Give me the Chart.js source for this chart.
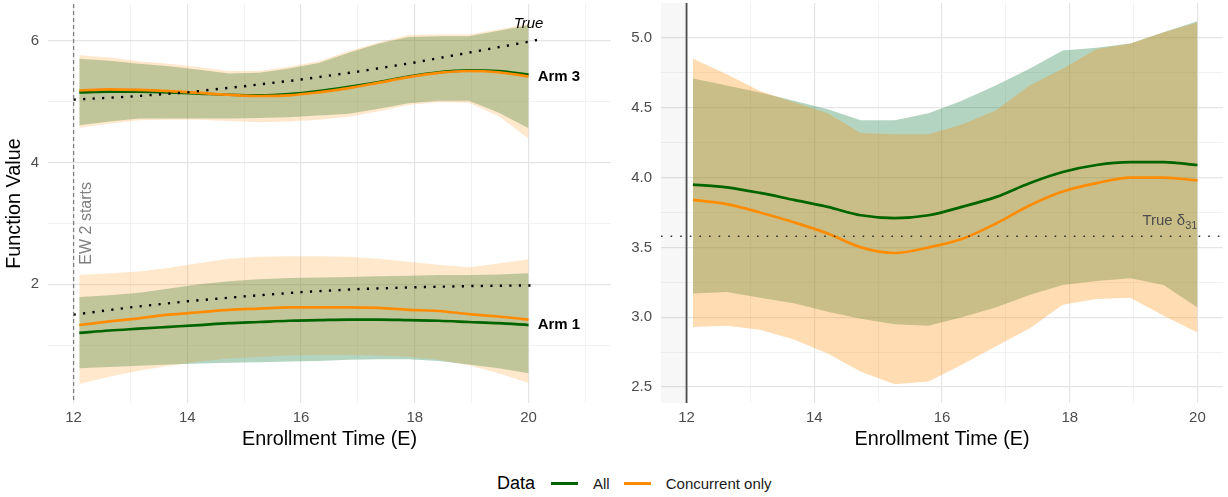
<!DOCTYPE html>
<html>
<head>
<meta charset="utf-8">
<script src="https://cdn.jsdelivr.net/npm/chart.js@4.4.1/dist/chart.umd.min.js"></script>
<style>
  body { margin: 0; background: #fff; width: 1228px; height: 497px; position: relative; overflow: hidden;
         font-family: "Liberation Sans", Arial, sans-serif; }
  #left { position: absolute; left: 0; top: 0; }
  #right { position: absolute; left: 615px; top: 0; }
  #legend { position: absolute; top: 471px; left: 497px; height: 24px; display: flex; align-items: center; }
  #legend .title { font-size: 18px; color: #000; margin-right: 16px; }
  #legend .key { width: 27px; height: 3px; margin-right: 15px; }
  #legend .lab { font-size: 15px; color: #1a1a1a; margin-right: 14px; }
</style>
</head>
<body>
<canvas id="left" width="615" height="455"></canvas>
<canvas id="right" width="613" height="455"></canvas>
<div id="legend">
  <span class="title">Data</span>
  <span class="key" style="background:#006400"></span><span class="lab">All</span>
  <span class="key" style="background:#ff8c00"></span><span class="lab">Concurrent only</span>
</div>
<script>
// enrollment times of the estimates
const enrollTime = [12.1, 12.63, 13.15, 13.68, 14.21, 14.73, 15.26, 15.79, 16.31, 16.84, 17.37, 17.89, 18.42, 18.95, 19.47, 20];

// left panel - arm 3
const arm3AllFit  = [5.15, 5.16, 5.16, 5.15, 5.13, 5.11, 5.10, 5.12, 5.17, 5.24, 5.32, 5.41, 5.48, 5.51, 5.50, 5.44];
const arm3AllLow  = [4.61, 4.67, 4.72, 4.72, 4.72, 4.72, 4.73, 4.74, 4.77, 4.80, 4.88, 4.97, 5.01, 5.01, 4.82, 4.56];
const arm3AllUp   = [5.70, 5.67, 5.62, 5.58, 5.52, 5.46, 5.47, 5.54, 5.63, 5.80, 5.95, 6.06, 6.07, 6.07, 6.16, 6.25];
const arm3ConcFit = [5.18, 5.20, 5.19, 5.17, 5.14, 5.11, 5.09, 5.10, 5.15, 5.22, 5.31, 5.40, 5.47, 5.50, 5.48, 5.41];
const arm3ConcLow = [4.57, 4.64, 4.69, 4.70, 4.70, 4.68, 4.66, 4.67, 4.70, 4.75, 4.84, 4.94, 4.99, 4.98, 4.76, 4.39];
const arm3ConcUp  = [5.76, 5.72, 5.66, 5.62, 5.56, 5.50, 5.50, 5.57, 5.66, 5.83, 5.97, 6.09, 6.10, 6.10, 6.18, 6.27];

// left panel - arm 1
const arm1AllFit  = [1.20, 1.24, 1.27, 1.30, 1.33, 1.36, 1.38, 1.40, 1.41, 1.42, 1.42, 1.41, 1.40, 1.38, 1.36, 1.33];
const arm1AllLow  = [0.62, 0.64, 0.66, 0.68, 0.70, 0.71, 0.72, 0.73, 0.74, 0.76, 0.77, 0.77, 0.74, 0.68, 0.62, 0.54];
const arm1AllUp   = [1.79, 1.82, 1.86, 1.93, 2.00, 2.05, 2.08, 2.10, 2.11, 2.12, 2.13, 2.14, 2.15, 2.15, 2.16, 2.18];
const arm1ConcFit = [1.33, 1.39, 1.44, 1.50, 1.54, 1.58, 1.60, 1.62, 1.62, 1.62, 1.61, 1.58, 1.56, 1.51, 1.47, 1.42];
const arm1ConcLow = [0.36, 0.48, 0.58, 0.66, 0.73, 0.78, 0.81, 0.83, 0.84, 0.84, 0.83, 0.81, 0.76, 0.67, 0.54, 0.38];
const arm1ConcUp  = [2.15, 2.18, 2.21, 2.27, 2.35, 2.42, 2.45, 2.46, 2.46, 2.45, 2.42, 2.37, 2.32, 2.28, 2.34, 2.41];

// true functions (dotted)
const trueTime = [12, 13, 14, 15, 16, 17, 18, 19, 20, 20.15];
const arm3True = [5.03, 5.08, 5.15, 5.25, 5.36, 5.49, 5.64, 5.81, 5.98, 6.01];
const arm1True = [1.50, 1.62, 1.72, 1.80, 1.87, 1.92, 1.95, 1.97, 1.98, 1.98];

// right panel - delta_31
const deltaAllFit  = [3.95, 3.93, 3.89, 3.84, 3.79, 3.73, 3.71, 3.73, 3.79, 3.86, 3.96, 4.04, 4.09, 4.11, 4.11, 4.09];
const deltaAllLow  = [3.17, 3.18, 3.14, 3.10, 3.04, 2.99, 2.95, 2.94, 3.00, 3.07, 3.16, 3.23, 3.26, 3.28, 3.23, 3.07];
const deltaAllUp   = [4.71, 4.66, 4.61, 4.55, 4.49, 4.41, 4.41, 4.46, 4.55, 4.66, 4.78, 4.91, 4.93, 4.96, 5.04, 5.12];
const deltaConcFit = [3.84, 3.81, 3.75, 3.68, 3.60, 3.50, 3.46, 3.50, 3.56, 3.67, 3.80, 3.90, 3.96, 4.00, 4.00, 3.98];
const deltaConcLow = [2.93, 2.94, 2.91, 2.84, 2.74, 2.61, 2.52, 2.54, 2.66, 2.79, 2.92, 3.09, 3.13, 3.14, 3.01, 2.89];
const deltaConcUp  = [4.85, 4.74, 4.62, 4.54, 4.46, 4.32, 4.31, 4.31, 4.38, 4.48, 4.66, 4.78, 4.92, 4.96, 5.04, 5.11];
const trueDelta = 3.58;

// axis ticks
const leftXGrid = [12, 13, 14, 15, 16, 17, 18, 19, 20, 21];
const leftYGrid = [1, 2, 3, 4, 5, 6];
const leftYLabels = [2, 4, 6];
const rightXGrid = [12, 13, 14, 15, 16, 17, 18, 19, 20];
const xLabels = [12, 14, 16, 18, 20];
const rightYGrid = [2.5, 2.75, 3, 3.25, 3.5, 3.75, 4, 4.25, 4.5, 4.75, 5];
const rightYLabels = [2.5, 3, 3.5, 4, 4.5, 5];

const ewStart = 12;

const GREEN = '#006400', ORANGE = '#ff8c00';
const FONT = '"Liberation Sans", Arial, sans-serif';
Chart.defaults.font.family = FONT;

function pts(xs, ys) { return xs.map((v, i) => ({x: v, y: ys[i]})); }

function band(up, low, color, order) {
  return [
    {data: pts(enrollTime, up), borderWidth: 0, pointRadius: 0, backgroundColor: color, fill: '+1', order: order},
    {data: pts(enrollTime, low), borderWidth: 0, pointRadius: 0, fill: false, order: order}
  ];
}
function line(ys, color, order) {
  return {data: pts(enrollTime, ys), borderColor: color, borderWidth: 2.7, pointRadius: 0,
          fill: false, cubicInterpolationMode: 'monotone', order: order};
}
function dotted(ys) {
  return {data: pts(trueTime, ys), borderColor: '#000', borderWidth: 2.4, borderDash: [2.2, 7.3],
          pointRadius: 0, fill: false, order: 1};
}

function scaleX(min, max, grid) {
  return {
    type: 'linear', min: min, max: max,
    afterBuildTicks: s => { s.ticks = grid.map(v => ({value: v})); },
    afterFit: s => { s.height = 52; s.paddingLeft = 0; s.paddingRight = 0; },
    border: {display: false},
    grid: {drawTicks: false,
           color: c => xLabels.includes(c.tick.value) ? '#e5e5e5' : '#efefef',
           lineWidth: c => xLabels.includes(c.tick.value) ? 1.2 : 0.8},
    ticks: {padding: 6, color: '#4d4d4d', font: {size: 15}, maxRotation: 0,
            callback: v => xLabels.includes(v) ? String(v) : ''},
    title: {display: true, text: 'Enrollment Time (E)', color: '#000', font: {size: 19.8}, padding: {top: 0, bottom: 4}}
  };
}
function scaleY(min, max, grid, labels, width, fmt, title) {
  return {
    type: 'linear', min: min, max: max,
    afterBuildTicks: s => { s.ticks = grid.map(v => ({value: v})); },
    afterFit: s => { s.width = width; s.paddingTop = 0; s.paddingBottom = 0; },
    border: {display: false},
    grid: {drawTicks: false,
           color: c => labels.includes(c.tick.value) ? '#e5e5e5' : '#efefef',
           lineWidth: c => labels.includes(c.tick.value) ? 1.2 : 0.8},
    ticks: {padding: 9, color: '#4d4d4d', font: {size: 15},
            callback: v => labels.includes(v) ? fmt(v) : ''},
    title: title ? {display: true, text: title, color: '#000', font: {size: 19.8}, padding: {top: 3, bottom: 0}} : {display: false}
  };
}

const leftNotes = {
  id: 'leftNotes',
  afterDatasetsDraw(chart) {
    const {ctx, chartArea: a, scales: {x, y}} = chart;
    ctx.save();
    const xs = x.getPixelForValue(ewStart);
    ctx.strokeStyle = '#808080';
    ctx.lineWidth = 1.3;
    ctx.setLineDash([4, 3]);
    ctx.beginPath(); ctx.moveTo(xs, a.top); ctx.lineTo(xs, a.bottom); ctx.stroke();
    ctx.setLineDash([]);

    ctx.save();
    ctx.translate(x.getPixelForValue(12.23), y.getPixelForValue(3));
    ctx.rotate(-Math.PI / 2);
    ctx.fillStyle = '#808080';
    ctx.font = '16px ' + FONT;
    ctx.textAlign = 'center'; ctx.textBaseline = 'middle';
    ctx.fillText('EW 2 starts', 0, 0);
    ctx.restore();

    ctx.fillStyle = '#000';
    ctx.font = 'bold 15px ' + FONT;
    ctx.textAlign = 'left'; ctx.textBaseline = 'middle';
    ctx.fillText('Arm 3', x.getPixelForValue(20.16), y.getPixelForValue(arm3AllFit[arm3AllFit.length - 1] - 0.03));
    ctx.fillText('Arm 1', x.getPixelForValue(20.16), y.getPixelForValue(arm1AllFit[arm1AllFit.length - 1]));

    ctx.font = 'italic 15px ' + FONT;
    ctx.textAlign = 'center';
    ctx.fillText('True', x.getPixelForValue(20), y.getPixelForValue(6.28));
    ctx.restore();
  }
};

const rightNotes = {
  id: 'rightNotes',
  beforeDatasetsDraw(chart) {
    const {ctx, chartArea: a, scales: {x}} = chart;
    ctx.save();
    ctx.fillStyle = 'rgba(0,0,0,0.03)';
    ctx.fillRect(a.left, a.top, x.getPixelForValue(ewStart) - a.left, a.bottom - a.top);
    ctx.restore();
  },
  afterDatasetsDraw(chart) {
    const {ctx, chartArea: a, scales: {x, y}} = chart;
    ctx.save();
    const xs = x.getPixelForValue(ewStart);
    ctx.strokeStyle = '#4d4d4d';
    ctx.lineWidth = 1.8;
    ctx.beginPath(); ctx.moveTo(xs, a.top); ctx.lineTo(xs, a.bottom); ctx.stroke();

    const yt = y.getPixelForValue(trueDelta);
    ctx.strokeStyle = '#333';
    ctx.lineWidth = 1.6;
    ctx.setLineDash([1.6, 8]);
    ctx.beginPath(); ctx.moveTo(a.left, yt); ctx.lineTo(a.right, yt); ctx.stroke();
    ctx.setLineDash([]);

    // "True δ31" label, right aligned at x = 20
    ctx.fillStyle = '#4d4d4d';
    ctx.textBaseline = 'alphabetic';
    ctx.textAlign = 'left';
    const big = '15px ' + FONT, small = '11px ' + FONT;
    ctx.font = big;
    const w1 = ctx.measureText('True \u03b4').width;
    ctx.font = small;
    const w2 = ctx.measureText('31').width;
    const xr = x.getPixelForValue(20);
    const yb = y.getPixelForValue(3.657);
    ctx.font = big;
    ctx.fillText('True \u03b4', xr - w1 - w2, yb);
    ctx.font = small;
    ctx.fillText('31', xr - w2, yb + 4);
    ctx.restore();
  }
};

const common = {
  responsive: false,
  animation: false,
  events: [],
  plugins: {legend: {display: false}, tooltip: {enabled: false}}
};

new Chart(document.getElementById('left'), {
  type: 'line',
  data: {
    datasets: [
      ...band(arm3AllUp, arm3AllLow, 'rgba(46,139,87,0.37)', 10),
      ...band(arm1AllUp, arm1AllLow, 'rgba(46,139,87,0.37)', 10),
      ...band(arm3ConcUp, arm3ConcLow, 'rgba(255,140,0,0.2)', 8),
      ...band(arm1ConcUp, arm1ConcLow, 'rgba(255,140,0,0.2)', 8),
      line(arm3AllFit, GREEN, 4),
      line(arm1AllFit, GREEN, 4),
      line(arm3ConcFit, ORANGE, 2),
      line(arm1ConcFit, ORANGE, 2),
      dotted(arm3True),
      dotted(arm1True)
    ]
  },
  options: {
    ...common,
    layout: {padding: {top: 4, right: 4, left: 0, bottom: 0}},
    scales: {
      x: scaleX(11.55, 21.45, leftXGrid),
      y: scaleY(0.05, 6.6, leftYGrid, leftYLabels, 48, v => String(v), 'Function Value')
    }
  },
  plugins: [leftNotes]
});

new Chart(document.getElementById('right'), {
  type: 'line',
  data: {
    datasets: [
      ...band(deltaAllUp, deltaAllLow, 'rgba(46,139,87,0.37)', 10),
      ...band(deltaConcUp, deltaConcLow, 'rgba(255,140,0,0.3)', 8),
      line(deltaAllFit, GREEN, 4),
      line(deltaConcFit, ORANGE, 2)
    ]
  },
  options: {
    ...common,
    layout: {padding: {top: 3, right: 5, left: 0, bottom: 0}},
    scales: {
      x: scaleX(11.6, 20.4, rightXGrid),
      y: scaleY(2.386, 5.25, rightYGrid, rightYLabels, 46, v => v.toFixed(1), null)
    }
  },
  plugins: [rightNotes]
});
</script>
</body>
</html>
